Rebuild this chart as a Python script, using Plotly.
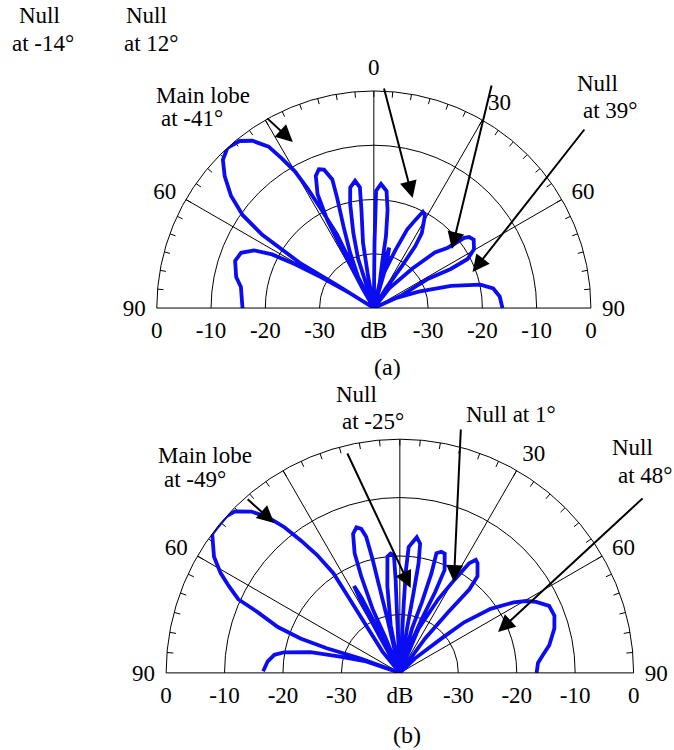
import plotly.graph_objects as go

W, H = 674, 750

# ---------------- data ----------------
# (a) beam pattern: angle (deg, 0 = broadside, negative = left) and level (dB)
a_theta = [-90, -81, -77.3, -71.2, -67.4, -64.3, -62.2, -60.9, -59.7, -58.3, -57,
           -58, -58.6, -56.7, -54.7, -51.8, -48.5, -45.5, -42.4, -38.8, -36, -33.1,
           -31.6, -30, -29, -28.1, -26.6, -27, -28,
           -30, -28.4, -27.9, -26.3, -23.7, -21.6, -19.8, -17.9, -18.4, -20.4, -23.2, -26.8, -18,
           -17.7, -15.3, -12.8, -11.1, -8.4, -6.6, -7.2, -9.4, -10.2, -2,
           0.6, 1, 1.1, 3.3, 6.2, 8, 9.6, 10.2, 13.7, 12,
           13, 14.3, 15.5, 16,
           16.3, 20.5, 23, 25.2, 27, 28.9, 32.6, 33.8, 33.8, 31.8, 36,
           38.1, 44.3, 47.7, 50.8, 52.2, 53.3, 55.6, 59.6, 62.4, 63.1, 61.7, 65.4, 66,
           65.9, 69.9, 74, 77.6, 80.7, 84.8, 90]
a_db = [-15.8, -15.2, -14.0, -13.0, -13.5, -15.5, -18.8, -23.3, -28.7, -34.8, -40,
        -32, -24, -15.4, -10.4, -6.5, -3.3, -1.0, 0, -0.5, -1.9, -4.5,
        -7.6, -10.9, -14.9, -19.2, -24.9, -31, -40,
        -36, -27, -21.7, -16.6, -13.4, -12.5, -12.9, -15.1, -18.5, -24, -28.9, -33.6, -40,
        -30.5, -25.7, -20.3, -17.4, -16.3, -17.6, -21.8, -27.8, -33.9, -40,
        -28, -22, -18.4, -17.1, -18.3, -21.8, -26.6, -30.8, -35.7, -40,
        -31, -28.5, -31, -40,
        -33.1, -28.5, -24.3, -22.1, -20.1, -20.5, -23.6, -26.3, -30.6, -35.8, -40,
        -35.4, -29.9, -24.8, -22.4, -18.9, -18.1, -17.7, -18.6, -20.5, -24.1, -28.6, -34.3, -40,
        -35.6, -31.2, -25.2, -19.9, -17.7, -16.7, -16.3]

# (b) beam pattern
b_theta = [-89.3, -85, -81.8, -79.9, -77, -74.7, -71.2, -70,
           -69.9, -71.4, -70.9, -69.4, -66.9, -65.5, -63.1, -60.9, -58, -53.4, -50.2, -48,
           -45.6, -42.6, -40.3, -38.4, -36.8, -35.1, -33.7, -34.2, -35.4, -39.2, -36,
           -29, -28.5, -27.8, -27, -26.5, -25,
           -22.2, -23.1, -21.8, -20.7, -18.6, -16.6, -15, -13.9, -13.5, -13.4, -13, -12,
           -10.9, -8.2, -6.1, -4.4, -2.9, -2.6, -2.8, 0,
           3.4, 3.2, 3.4, 4, 7.1, 8.9, 9.7, 9.7, 9.2, 12,
           15.3, 17.3, 17.6, 17, 18.9, 20.6, 23.5, 23.6, 22.1, 19.8, 22,
           22.9, 27.5, 30.4, 32.3, 33.9, 35.3, 38.8, 39.8, 38.5, 36.3, 42,
           46.3, 50.4, 51.8, 54.8, 58.2, 60.4, 62.5, 65.8, 69.7, 74, 79.5, 82.8, 85.9, 90]
b_db = [-16.6, -17.3, -18.3, -19.9, -24.3, -29.4, -33.9, -40,
        -32.7, -26.8, -22.0, -17.7, -13.6, -9.6, -7.2, -4.9, -2.5, 0, 0, 0,
        -0.5, -2.5, -5.1, -8.2, -11.7, -15.3, -19.5, -24.8, -30, -35.3, -40,
        -33, -26, -23.2, -25.5, -32, -40,
        -33.6, -28.1, -22.2, -18.1, -14.9, -14.0, -14.5, -16, -20.1, -24.7, -30.5, -40,
        -31.7, -25, -20, -19.5, -19.8, -24, -30.7, -40,
        -35.2, -27.9, -22.3, -18.4, -16.6, -17.6, -21, -26.1, -32.3, -40,
        -32.2, -27.4, -22.1, -18.6, -18.1, -18.2, -20.8, -25, -30, -35.5, -40,
        -31.8, -25.8, -21.5, -17.8, -16.7, -17, -18.8, -21.4, -26.8, -32.7, -40,
        -36.4, -30.8, -26, -21, -17.1, -15.1, -13.7, -12, -11.8, -12.5, -14, -15.3, -16.3, -16.6]

# axes
radial_range = [-40, 0]
radial_grid = [-30, -20, -10]
spoke_angles = [-60, -30, 0, 30, 60]
ang_tickvals = list(range(-90, 91, 5))
a_ang_labels = {-90: "90", -60: "60", 0: "0", 30: "30", 60: "60", 90: "90"}
b_ang_labels = {-90: "90", -60: "60", 30: "30", 60: "60", 90: "90"}
db_axis_vals = [-40, -30, -20, -10, 0, 10, 20, 30, 40]
db_axis_text = ["0", "-10", "-20", "-30", "dB", "-30", "-20", "-10", "0"]
TICK_LEN_DB = 1.1  # inner tick length on the outer ring, in dB units

FONT = "Liberation Serif"
BLUE = "rgb(12,12,242)"
FS = 23

# ---------------- layout geometry (pixels) ----------------
panels = {
    "a": dict(cx=374.5, cy=310, R=221),
    "b": dict(cx=401, cy=675, R=238),
}


def dom(p):
    x0 = (p["cx"] - p["R"]) / W
    x1 = (p["cx"] + p["R"]) / W
    y0 = 1 - p["cy"] / H
    y1 = 1 - (p["cy"] - p["R"]) / H
    return [x0, x1], [y0, y1]


fig = go.Figure()

subplots = [("polar", "x", "y", a_theta, a_db, "a", a_ang_labels),
            ("polar2", "x2", "y2", b_theta, b_db, "b", b_ang_labels)]
for sp, xa, ya, th, db, key, labs in subplots:
    # radial spokes
    for ang in spoke_angles:
        fig.add_trace(go.Scatterpolar(r=radial_range, theta=[ang, ang], mode="lines",
                                      line=dict(color="black", width=1), subplot=sp,
                                      hoverinfo="skip", showlegend=False))
    # inner ticks on the outer ring (every 5 degrees)
    tr, tt = [], []
    for v in ang_tickvals:
        if abs(v) == 90:
            continue
        tr += [radial_range[1] - TICK_LEN_DB, radial_range[1], None]
        tt += [v, v, None]
    fig.add_trace(go.Scatterpolar(r=tr, theta=tt, mode="lines",
                                  line=dict(color="black", width=1), subplot=sp,
                                  hoverinfo="skip", showlegend=False, connectgaps=False))
    fig.add_trace(go.Scatterpolar(r=db, theta=th, mode="lines",
                                  line=dict(color=BLUE, width=3.8), subplot=sp,
                                  showlegend=False))
    fig.add_trace(go.Scatter(x=db_axis_vals, y=[0] * len(db_axis_vals), xaxis=xa, yaxis=ya,
                             mode="markers", marker=dict(opacity=0), hoverinfo="skip",
                             showlegend=False))

layout = dict(width=W, height=H, margin=dict(l=0, r=0, t=0, b=0),
              paper_bgcolor="white", plot_bgcolor="rgba(0,0,0,0)", showlegend=False,
              font=dict(family=FONT, size=FS, color="black"))

for sp, xa, ya, th, db, key, labs in subplots:
    xd, yd = dom(panels[key])
    layout[sp] = dict(
        domain=dict(x=xd, y=yd), sector=[0, 180], bgcolor="rgba(0,0,0,0)",
        angularaxis=dict(rotation=90, direction="clockwise", tickmode="array",
                         tickvals=list(labs.keys()), ticktext=list(labs.values()),
                         ticks="outside", ticklen=6, tickcolor="rgba(0,0,0,0)",
                         showline=True, linecolor="black", linewidth=1, showgrid=False,
                         tickfont=dict(family=FONT, size=FS, color="black")),
        radialaxis=dict(range=radial_range, tickvals=radial_grid, showticklabels=False,
                        ticks="", showline=False, showgrid=True, gridcolor="black",
                        gridwidth=1),
    )
    xname = "xaxis" if xa == "x" else "xaxis2"
    yname = "yaxis" if ya == "y" else "yaxis2"
    layout[xname] = dict(domain=xd, anchor=ya, range=[-40, 40], tickmode="array",
                         tickvals=db_axis_vals, ticktext=db_axis_text, showgrid=False,
                         zeroline=False, showline=False, ticks="", ticklabelstandoff=4,
                         tickfont=dict(family=FONT, size=FS, color="black"),
                         fixedrange=True)
    layout[yname] = dict(domain=yd, anchor=xa, range=[0, 1], visible=False, fixedrange=True)

fig.update_layout(**layout)


def P(x, y):
    return x / W, 1 - y / H


# text lines: (text, x px, y px centre, xanchor, size)
texts = [
    ("Null", 12, 16, "left", FS),
    ("at -14°", 5, 44, "left", FS),
    ("Null", 121, 16, "left", FS),
    ("at 12°", 119, 44, "left", FS),
    ("Main lobe", 152, 95, "left", FS),
    ("at -41°", 157, 118, "left", FS),
    ("Null", 580, 84, "left", FS),
    ("at 39°", 586, 110, "left", FS),
    ("(a)", 388, 367, "center", 24),
    ("Main lobe", 154, 455, "left", FS),
    ("at -49°", 160, 479, "left", FS),
    ("Null", 335, 395, "left", FS),
    ("at -25°", 341, 421, "left", FS),
    ("Null at 1°", 467, 414, "left", FS),
    ("Null", 616, 447, "left", FS),
    ("at 48°", 622, 475, "left", FS),
    ("(b)", 408, 735, "center", 24),
]
for t, x, y, xa, fs in texts:
    px, py = P(x, y)
    fig.add_annotation(text=t, x=px, y=py, xref="paper", yref="paper", xanchor=xa,
                       yanchor="middle", showarrow=False, borderpad=0,
                       font=dict(family=FONT, size=fs, color="black"))

# arrows: (tail_x, tail_y, head_x, head_y) in pixels
arrows = [
    (265, 117, 292, 142),
    (385, 87, 414, 198),
    (494, 84, 454, 249),
    (588, 128, 475, 272),
    (245, 498, 273, 523),
    (348, 452, 412, 588),
    (463, 428, 456, 582),
    (647, 497, 501, 632),
]
for tx, ty, hx, hy in arrows:
    px, py = P(hx, hy)
    fig.add_annotation(x=px, y=py, xref="paper", yref="paper", ax=tx - hx, ay=ty - hy,
                       axref="pixel", ayref="pixel", text="", showarrow=True,
                       arrowhead=2, arrowsize=1.7, arrowwidth=2, arrowcolor="black",
                       standoff=0)

fig.write_html("out.html")
